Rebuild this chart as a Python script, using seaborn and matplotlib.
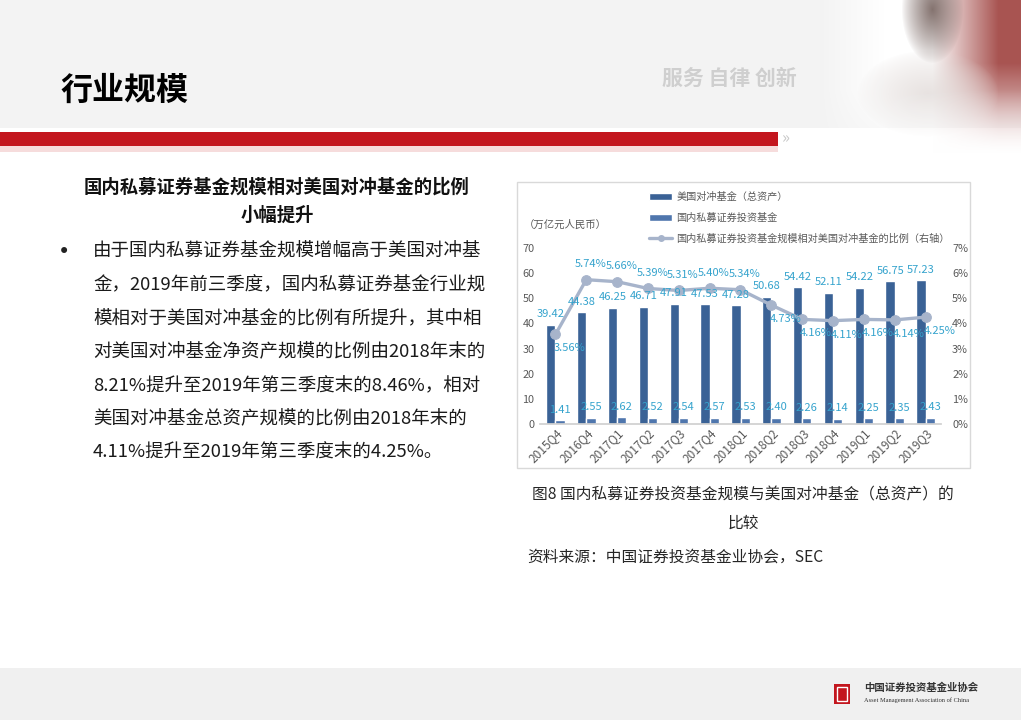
import numpy as np
import pandas as pd
import seaborn as sns
import matplotlib.pyplot as plt
from matplotlib.patches import Rectangle, Patch
from matplotlib.lines import Line2D
from matplotlib.ticker import PercentFormatter

# data
quarters = ['2015Q4', '2016Q4', '2017Q1', '2017Q2', '2017Q3', '2017Q4', '2018Q1',
            '2018Q2', '2018Q3', '2018Q4', '2019Q1', '2019Q2', '2019Q3']
us_hedge = [39.42, 44.38, 46.25, 46.71, 47.91, 47.53, 47.28, 50.68, 54.42, 52.11, 54.22, 56.75, 57.23]
cn_private = [1.41, 2.55, 2.62, 2.52, 2.54, 2.57, 2.53, 2.40, 2.26, 2.14, 2.25, 2.35, 2.43]
ratio_pct = [3.56, 5.74, 5.66, 5.39, 5.31, 5.40, 5.34, 4.73, 4.16, 4.11, 4.16, 4.14, 4.25]
series_names = ['美国对冲基金（总资产）', '国内私募证券投资基金', '国内私募证券投资基金规模相对美国对冲基金的比例（右轴）']

sns.set_theme(style='white')
plt.rcParams['font.family'] = ['Noto Sans CJK SC', 'DejaVu Sans']

W, H = 1021, 720
def fx(x): return x / W
def fy(y): return 1 - y / H

fig = plt.figure(figsize=(10.21, 7.2), dpi=100)
fig.patch.set_facecolor('white')

# slide decoration
fig.patches.append(Rectangle((0, fy(128)), 1, 128 / H, transform=fig.transFigure,
                             facecolor='#f3f3f3', edgecolor='none', zorder=-5))
fig.patches.append(Rectangle((0, fy(152)), fx(778), 6 / H, transform=fig.transFigure,
                             facecolor='#f6dcdc', edgecolor='none', zorder=-4))
fig.patches.append(Rectangle((0, fy(146)), fx(778), 14 / H, transform=fig.transFigure,
                             facecolor='#c3161e', edgecolor='none', zorder=-3))
fig.text(fx(786), fy(139), '»', fontsize=12, color='#c8c8c8', ha='center', va='center')
fig.patches.append(Rectangle((0, 0), 1, 52 / H, transform=fig.transFigure,
                             facecolor='#f0f0f0', edgecolor='none', zorder=-5))

# rough stand-in for the seal photo at top right
seal_ax = fig.add_axes([fx(800), fy(180), fx(1021) - fx(800), 180 / H])
gx, gy = np.meshgrid(np.linspace(0, 1, 221), np.linspace(0, 1, 180))
fade = np.clip((0.95 - gy) / 0.45, 0, 1) * np.clip((gx - 0.08) / 0.3, 0, 1)
img = np.ones((180, 221, 3))
red = np.clip((gx - 0.6) / 0.3, 0, 1) * np.clip((0.85 - gy) / 0.5, 0, 1)
for k, c in enumerate([0.66, 0.33, 0.32]):
    img[..., k] = img[..., k] * (1 - red) + c * red
seal = np.clip(1 - np.sqrt(((gx - 0.58) / 0.32) ** 2 + ((gy - 0.52) / 0.24) ** 2), 0, 1) ** 0.7
for k, c in enumerate([0.87, 0.84, 0.83]):
    img[..., k] = img[..., k] * (1 - seal * 0.7) + c * seal * 0.7
dark = np.clip(1 - np.sqrt(((gx - 0.6) / 0.14) ** 2 + ((gy - 0.05) / 0.3) ** 2), 0, 1) ** 0.8
for k, c in enumerate([0.36, 0.27, 0.25]):
    img[..., k] = img[..., k] * (1 - dark * 0.75) + c * dark * 0.75
rgba = np.dstack([img, fade])
seal_ax.imshow(rgba, aspect='auto', interpolation='bilinear')
seal_ax.axis('off')

fig.text(fx(60), fy(91), '行业规模', fontsize=23, fontweight='bold', color='black',
         ha='left', va='center')
fig.text(fx(729), fy(78), '服务 自律 创新', fontsize=15, fontweight='bold', color='#cfcfcf',
         ha='center', va='center')

# left text block
fig.text(fx(277), fy(187), '国内私募证券基金规模相对美国对冲基金的比例', fontsize=13.2,
         fontweight='bold', ha='center', va='center', color='#111111')
fig.text(fx(277), fy(215), '小幅提升', fontsize=13.2, fontweight='bold', ha='center',
         va='center', color='#111111')
body = ['由于国内私募证券基金规模增幅高于美国对冲基',
        '金，2019年前三季度，国内私募证券基金行业规',
        '模相对于美国对冲基金的比例有所提升，其中相',
        '对美国对冲基金净资产规模的比例由2018年末的',
        '8.21%提升至2019年第三季度末的8.46%，相对',
        '美国对冲基金总资产规模的比例由2018年末的',
        '4.11%提升至2019年第三季度末的4.25%。']
fig.text(fx(64), fy(252), '•', fontsize=15, ha='center', va='center', color='#222222',
         family='DejaVu Sans')
for i, line in enumerate(body):
    fig.text(fx(93), fy(252 + i * 33.5), line, fontsize=13.3, ha='left', va='center',
             color='#1a1a1a')

# chart frame
fig.patches.append(Rectangle((fx(517), fy(468)), fx(970) - fx(517), 286 / H,
                             transform=fig.transFigure, facecolor='white',
                             edgecolor='#d9d9d9', linewidth=1, zorder=-1))

c_us, c_cn, c_line, c_lab = '#3a6296', '#4f76ad', '#a7b4cb', '#35a3cd'

ax = fig.add_axes([fx(540), fy(424), fx(941) - fx(540), (424 - 248) / H])
ax.set_facecolor('none')
df = pd.DataFrame({'quarter': quarters * 2,
                   'value': us_hedge + cn_private,
                   'series': [series_names[0]] * len(quarters) + [series_names[1]] * len(quarters)})
sns.barplot(data=df, x='quarter', y='value', hue='series', palette=[c_us, c_cn],
            width=0.6, saturation=1, legend=False, ax=ax)
ax.set_ylim(0, 70)
ax.set_yticks(range(0, 71, 10))
ax.set_xlim(-0.5, len(quarters) - 0.5)
ax.set_xlabel('')
ax.set_ylabel('')
ax.tick_params(axis='y', labelsize=7.8, labelcolor='#595959', pad=4, length=0)
ax.tick_params(axis='x', labelsize=8.5, labelcolor='#595959', pad=2, length=0)
plt.setp(ax.get_xticklabels(), rotation=45, ha='right', rotation_mode='anchor')
for s in ['left', 'right', 'top']:
    ax.spines[s].set_visible(False)
ax.spines['bottom'].set_color('#d0d0d0')

ax2 = ax.twinx()
sns.lineplot(x=np.arange(len(quarters)), y=np.array(ratio_pct) / 100, ax=ax2, color=c_line,
             linewidth=2.4, marker='o', markersize=7, markeredgecolor=c_line, zorder=2)
ax2.set_ylim(0, 0.07)
ax2.set_yticks(np.arange(0, 0.071, 0.01))
ax2.yaxis.set_major_formatter(PercentFormatter(1.0, decimals=0))
ax2.tick_params(axis='y', labelsize=7.8, labelcolor='#595959', pad=8, length=0)
ax2.set_xlim(-0.5, len(quarters) - 0.5)
ax2.set_ylabel('')
ax2.set_xlabel('')
for s in ['left', 'right', 'top', 'bottom']:
    ax2.spines[s].set_visible(False)

# bar value labels, drawn on the twin so they sit above the line
for cont, vals in zip(ax.containers, [us_hedge, cn_private]):
    for bar, v in zip(cont.patches, vals):
        ax2.annotate(f'{v:.2f}', (bar.get_x() + bar.get_width() / 2, bar.get_height()),
                     xycoords=ax.transData, xytext=(0, 4), textcoords='offset points',
                     ha='center', va='bottom', fontsize=8, color=c_lab, zorder=6)

above = range(1, 7)
for i, v in enumerate(ratio_pct):
    off = (3, 11) if i in above else (10, -10)
    ax2.annotate(f'{v:.2f}%', (i, v / 100), xytext=off, textcoords='offset points',
                 ha='center', va='center', fontsize=8, color=c_lab, zorder=6)

handles = [Patch(facecolor=c_us), Patch(facecolor=c_cn),
           Line2D([0], [0], color=c_line, lw=2.4, marker='o', markersize=4)]
fig.legend(handles, series_names, loc='upper left', bbox_to_anchor=(fx(644), fy(187)),
           frameon=False, fontsize=7.3, labelspacing=1.05, handlelength=2.3,
           handletextpad=0.4, borderpad=0, labelcolor='#595959')
fig.text(fx(524), fy(225), '（万亿元人民币）', fontsize=7.5, color='#595959',
         ha='left', va='center')

# caption
fig.text(fx(743), fy(495), '图8 国内私募证券投资基金规模与美国对冲基金（总资产）的',
         fontsize=11.3, ha='center', va='center', color='#262626')
fig.text(fx(743), fy(523), '比较', fontsize=11.3, ha='center', va='center', color='#262626')
fig.text(fx(527), fy(557), '资料来源：中国证券投资基金业协会，SEC', fontsize=11.3,
         ha='left', va='center', color='#262626')

# footer logo
fig.patches.append(Rectangle((fx(834), fy(704)), 16 / W, 20 / H, transform=fig.transFigure,
                             facecolor='#c3161e', edgecolor='none'))
fig.patches.append(Rectangle((fx(837), fy(701)), 10 / W, 14 / H, transform=fig.transFigure,
                             facecolor='none', edgecolor='white', linewidth=1))
fig.text(fx(864), fy(688), '中国证券投资基金业协会', fontsize=7.5, fontweight='bold',
         ha='left', va='center', color='#333333')
fig.text(fx(864), fy(700), 'Asset Management Association of China', fontsize=4.6,
         family=['Liberation Serif', 'DejaVu Serif'], ha='left', va='center', color='#333333')

fig.savefig('out.png', dpi=100)
